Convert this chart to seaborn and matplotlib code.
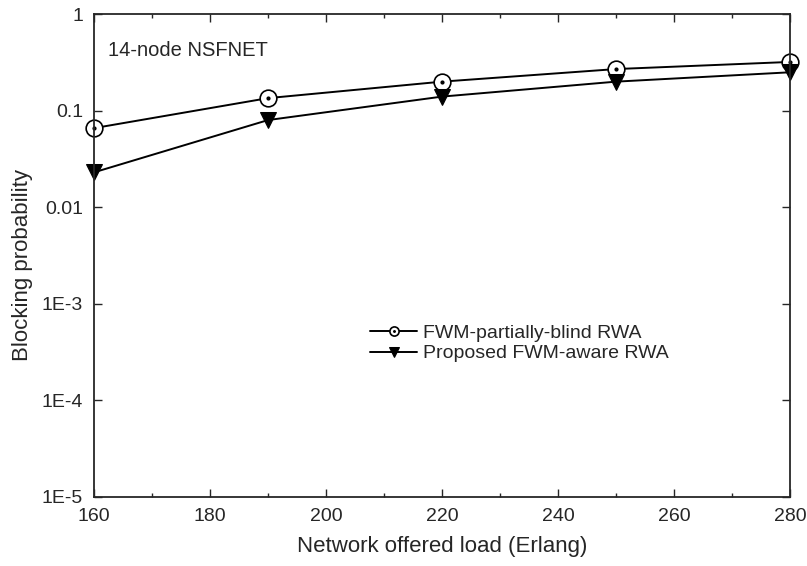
import numpy as np
import matplotlib
matplotlib.use('Agg')
import matplotlib.pyplot as plt
import seaborn as sns
from matplotlib.ticker import FixedLocator, FixedFormatter, MultipleLocator, NullLocator

# Daten
load = [160, 190, 220, 250, 280]
blind_rwa = [0.066, 0.135, 0.20, 0.27, 0.32]
aware_rwa = [0.023, 0.080, 0.14, 0.20, 0.25]

sns.set_style('ticks')
plt.rcParams['font.family'] = ['Liberation Sans', 'DejaVu Sans']

fig = plt.figure(figsize=(8.07, 5.66), dpi=100)
ax = fig.add_axes([0.1165, 0.122, 0.8625, 0.853])

sns.lineplot(x=load, y=blind_rwa, ax=ax, color='black', lw=1.4, marker='o', markersize=12,
             markerfacecolor='white', markeredgecolor='black', markeredgewidth=1.2, clip_on=False)
dots, = ax.plot(load, blind_rwa, ls='none', marker='o', markersize=2, color='black', clip_on=False)
sns.lineplot(x=load, y=aware_rwa, ax=ax, color='black', lw=1.4, marker='v', markersize=12,
             markeredgecolor='black', clip_on=False)

h_blind = (ax.lines[0], dots)
h_aware = ax.lines[2]

ax.set_yscale('log')
ax.set_xlim(160, 280)
ax.set_ylim(1e-5, 1)
ax.xaxis.set_major_locator(MultipleLocator(20))
ax.xaxis.set_minor_locator(MultipleLocator(10))
ax.yaxis.set_major_locator(FixedLocator([1e-5, 1e-4, 1e-3, 1e-2, 1e-1, 1]))
ax.yaxis.set_major_formatter(FixedFormatter(['1E-5', '1E-4', '1E-3', '0.01', '0.1', '1']))
ax.yaxis.set_minor_locator(NullLocator())
ax.tick_params(which='both', direction='in', top=True, right=True, labelsize=14, width=1)
ax.tick_params(which='major', length=6, pad=8)
ax.tick_params(which='minor', length=3)
for s in ax.spines.values():
    s.set_linewidth(1.3)
    s.set_visible(True)

ax.set_xlabel('Network offered load (Erlang)', fontsize=16, labelpad=8)
ax.set_ylabel('Blocking probability', fontsize=16)
ax.yaxis.set_label_coords(-0.088, 0.48)
ax.text(0.02, 0.925, '14-node NSFNET', transform=ax.transAxes, fontsize=14.5, va='center')

ax.legend([h_blind, h_aware], ['FWM-partially-blind RWA', 'Proposed FWM-aware RWA'],
          loc='center left', bbox_to_anchor=(0.397, 0.318), frameon=False, fontsize=14,
          handlelength=2.4, markerscale=0.55, handletextpad=0.3, labelspacing=0.15,
          borderpad=0, borderaxespad=0)

fig.savefig('out.png', dpi=100)
